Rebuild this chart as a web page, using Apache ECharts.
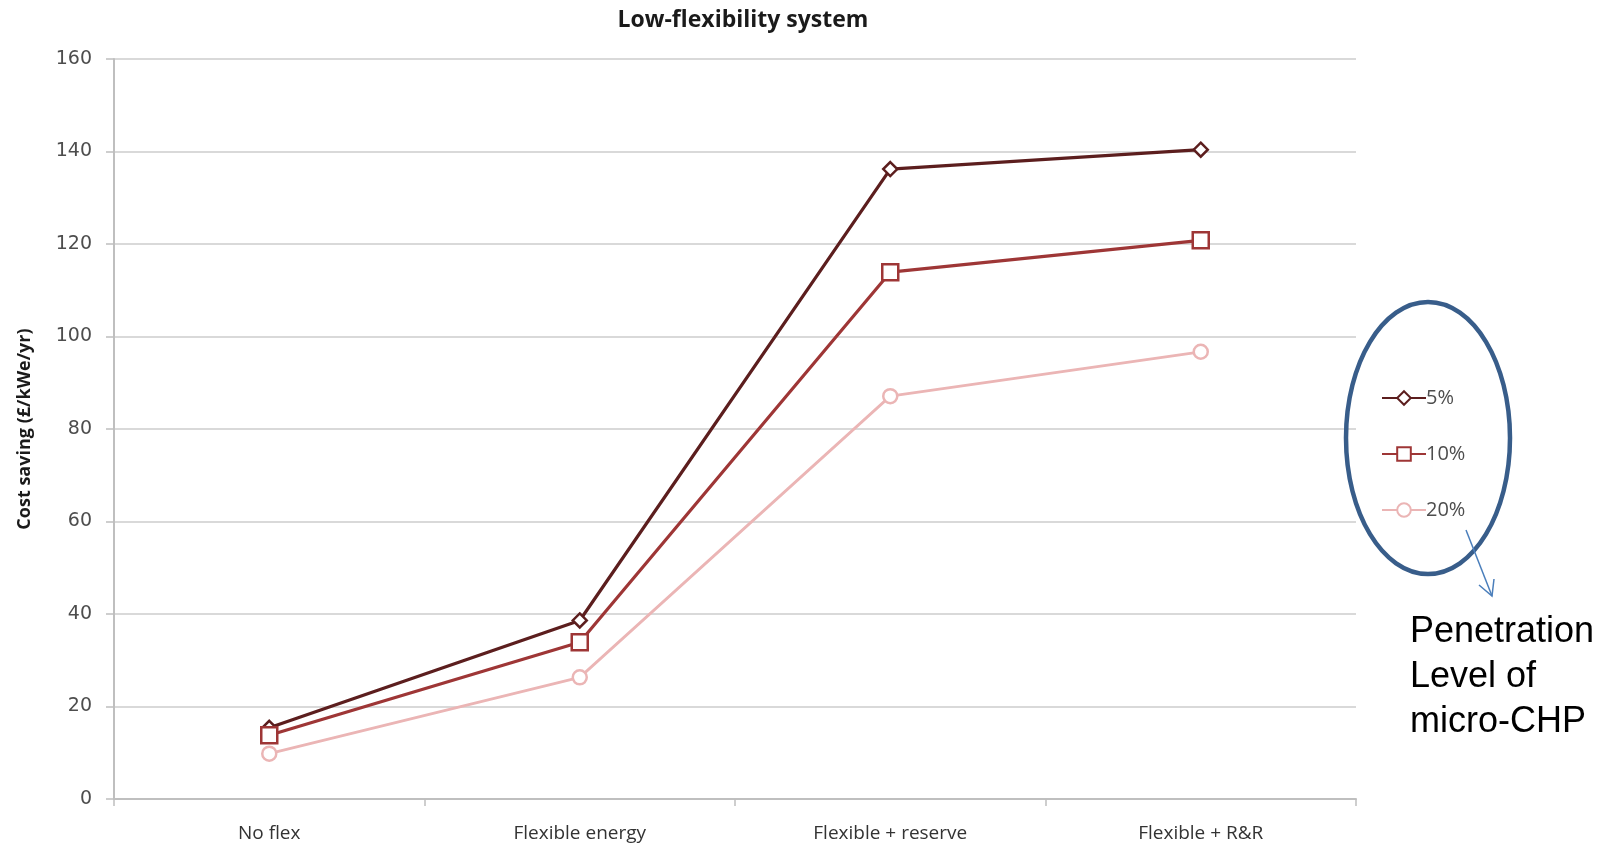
<!DOCTYPE html>
<html>
<head>
<meta charset="utf-8">
<script src="https://cdn.jsdelivr.net/npm/echarts@6/dist/echarts.min.js"></script>
<style>
  html, body { margin: 0; padding: 0; background: #fff; }
  #chart { width: 1617px; height: 847px; }
</style>
</head>
<body>
<div id="chart"></div>
<script>
// Scenario categories along the x axis
const categories = ['No flex', 'Flexible energy', 'Flexible + reserve', 'Flexible + R&R'];
// Cost saving (£/kWe/yr) per micro-CHP penetration level
const pen5 = [15.4, 38.6, 136.2, 140.4];
const pen10 = [13.8, 33.9, 113.9, 120.8];
const pen20 = [9.8, 26.3, 87.1, 96.7];
const seriesNames = ['5%', '10%', '20%'];
const yTicks = { min: 0, max: 160, interval: 20 };

const narrow = '"Open Sans", sans-serif';

function lineSeries(name, data, color, symbol, size, width) {
  return {
    name: name,
    type: 'line',
    data: data,
    symbol: symbol,
    symbolSize: size,
    showAllSymbol: true,
    lineStyle: { color: color, width: width },
    itemStyle: { color: '#fff', borderColor: color, borderWidth: 2.5 },
    emphasis: { disabled: true },
    z: 3
  };
}

const chart = echarts.init(document.getElementById('chart'), null, { renderer: 'canvas' });
chart.setOption({
  animation: false,
  backgroundColor: '#fff',
  title: {
    text: 'Low-flexibility system',
    left: 738,
    textAlign: 'center',
    top: 4,
    textStyle: { fontFamily: '"Open Sans", sans-serif', fontWeight: 'bold', fontSize: 23, color: '#1a1a1a' }
  },
  grid: { left: 114, right: 261, top: 59, bottom: 48, containLabel: false },
  xAxis: {
    type: 'category',
    data: categories,
    boundaryGap: true,
    axisLine: { lineStyle: { color: '#bfbfbf', width: 2 } },
    axisTick: { show: true, length: 7, lineStyle: { color: '#bfbfbf', width: 1.5 } },
    axisLabel: { margin: 25, fontFamily: narrow, fontSize: 19, fontWeight: 500, color: '#333333', letterSpacing: -0.6 }
  },
  yAxis: {
    type: 'value',
    min: yTicks.min,
    max: yTicks.max,
    interval: yTicks.interval,
    name: 'Cost saving (£/kWe/yr)',
    nameLocation: 'middle',
    nameGap: 80,
    nameRotate: 90,
    nameTextStyle: { fontFamily: narrow, fontWeight: 'bold', fontSize: 18, color: '#1a1a1a' },
    axisLine: { show: true, lineStyle: { color: '#bfbfbf', width: 2 } },
    axisTick: { show: true, length: 8, lineStyle: { color: '#bfbfbf', width: 1.5 } },
    axisLabel: { margin: 22, fontFamily: '"DejaVu Sans", sans-serif', fontSize: 19, color: '#4d4d4d' },
    splitLine: { lineStyle: { color: '#d9d9d9', width: 2 } }
  },
  legend: {
    orient: 'vertical',
    left: 1376,
    top: 383,
    itemWidth: 44,
    itemHeight: 17,
    itemGap: 36,
    data: seriesNames,
    textStyle: { fontFamily: narrow, fontSize: 20, fontWeight: 500, color: '#4d4d4d', padding: [0, 0, 0, -5] }
  },
  series: [
    lineSeries(seriesNames[0], pen5, '#5c1e1e', 'diamond', 14, 3.2),
    lineSeries(seriesNames[1], pen10, '#9e3636', 'rect', 16, 3.2),
    lineSeries(seriesNames[2], pen20, '#ebb5b5', 'circle', 14, 2.8)
  ],
  graphic: [
    {
      type: 'ellipse',
      shape: { cx: 1428, cy: 438, rx: 82, ry: 136 },
      style: { fill: 'none', stroke: '#385d8a', lineWidth: 4.5 },
      z: 10
    },
    {
      type: 'line',
      shape: { x1: 1466, y1: 530, x2: 1492, y2: 596 },
      style: { stroke: '#4a7ebb', lineWidth: 1.5 },
      z: 10
    },
    {
      type: 'polyline',
      shape: { points: [[1479, 585], [1492, 596], [1494, 579]] },
      style: { stroke: '#4a7ebb', lineWidth: 1.5, fill: 'none' },
      z: 10
    },
    {
      type: 'text',
      left: 1410,
      top: 610,
      style: {
        text: 'Penetration\nLevel of\nmicro-CHP',
        font: '36px "Liberation Sans", Arial, sans-serif',
        lineHeight: 45,
        fill: '#000'
      },
      z: 10
    }
  ]
});
</script>
</body>
</html>
